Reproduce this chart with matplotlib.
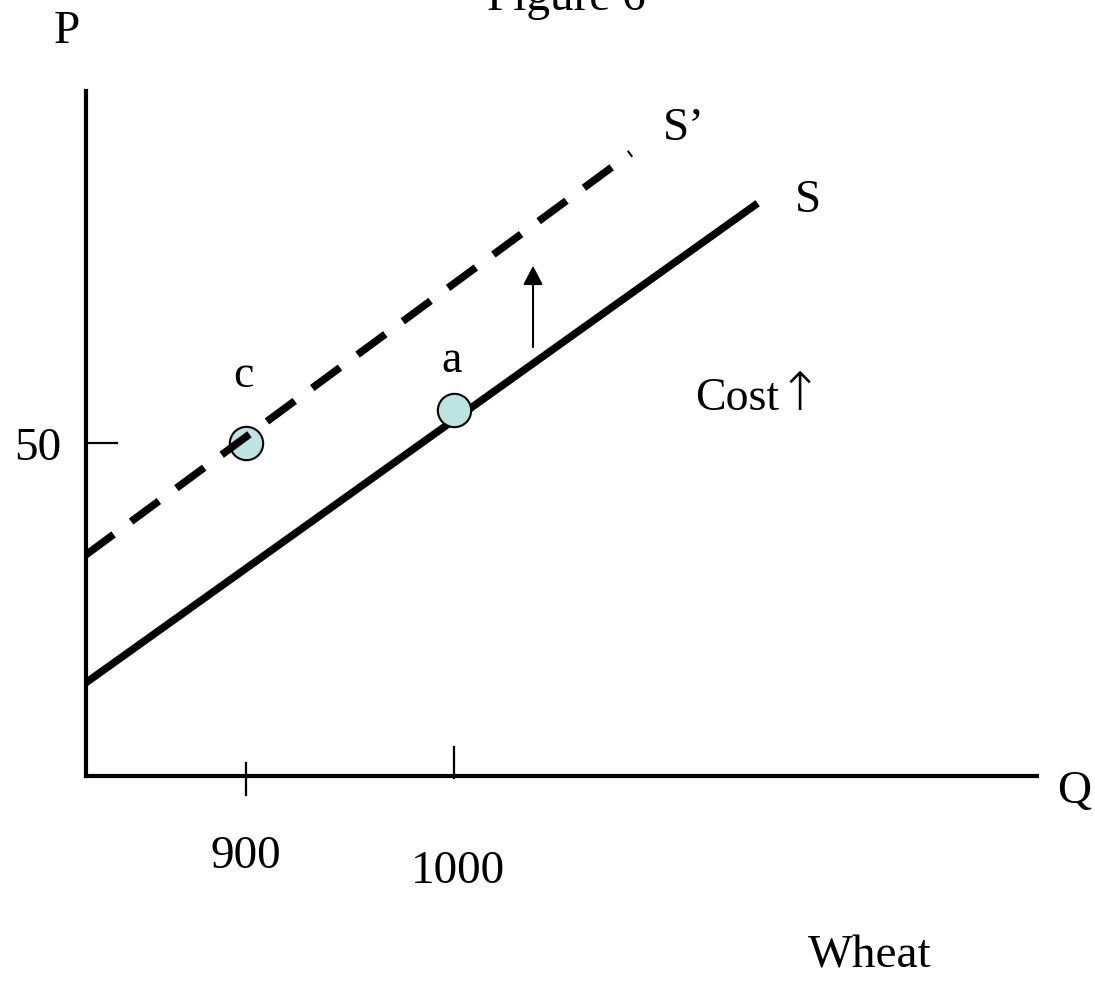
import matplotlib
matplotlib.use('Agg')
import matplotlib.pyplot as plt

plt.rcParams['font.family'] = ['Liberation Serif', 'DejaVu Serif']

# Supply curves (quantity, price)
s_q = [823, 1146]
s_p = [14.0, 86.0]
s_shift_q = [823, 1085]
s_shift_p = [33.2, 93.5]

# Marked points
pts_q = [900, 1000]
pts_p = [50, 55]
pts_lbl = ['c', 'a']

# Axis ticks
q_ticks = [900, 1000]
p_ticks = [50]

fig = plt.figure(figsize=(10.95, 9.81), dpi=100)
ax = fig.add_axes([86 / 1095, 1 - 776 / 981, 951 / 1095, 685 / 981])
ax.set_xlim(823.08, 1280.3)
ax.set_ylim(0, 102.85)

for side in ['top', 'right']:
    ax.spines[side].set_visible(False)
for side in ['left', 'bottom']:
    ax.spines[side].set_linewidth(3)
ax.set_xticks([])
ax.set_yticks([])

# curves
ax.plot(s_q, s_p, color='black', lw=5.4, solid_capstyle='butt', zorder=2)
ax.plot(s_shift_q, s_shift_p, color='black', lw=5.4, dashes=(4.6, 2.9),
        dash_capstyle='butt', zorder=4)

# points
ax.plot(pts_q[1], pts_p[1], 'o', ms=24, mfc='#bde3e3', mec='black', mew=1.5, zorder=3)
ax.plot(pts_q[0], pts_p[0], 'o', ms=24, mfc='#bde3e3', mec='black', mew=1.5, zorder=3)

fs = 34
ax.text(898.6, 58.4, pts_lbl[0], fontsize=fs - 1, ha='center', va='baseline')
ax.text(999, 60.7, pts_lbl[1], fontsize=fs - 1, ha='center', va='baseline')

# ticks
ax.plot([q_ticks[0], q_ticks[0]], [1.95, -2.85], color='black', lw=1.6, clip_on=False)
ax.plot([q_ticks[1], q_ticks[1]], [4.35, -0.3], color='black', lw=1.6, clip_on=False)
ax.plot([823.5, 838], [p_ticks[0], p_ticks[0]], color='black', lw=1.6, clip_on=False)

ax.text(q_ticks[0], -13.8, str(q_ticks[0]), fontsize=fs, ha='center', va='baseline', clip_on=False)
ax.text(q_ticks[1] + 2, -16.1, str(q_ticks[1]), fontsize=fs, ha='center', va='baseline', clip_on=False)
ax.text(800, 47.45, str(p_ticks[0]), fontsize=fs, ha='center', va='baseline', clip_on=False)

# shift arrow
ax.annotate('', xy=(1038, 76.6), xytext=(1038, 64.4),
            arrowprops=dict(arrowstyle='-|>,head_length=1.15,head_width=0.6',
                            color='black', lw=1.5, shrinkA=0, shrinkB=0))

ax.text(1100.5, 95.5, 'S\u2019', fontsize=fs, va='baseline')
ax.text(1163.9, 84.7, 'S', fontsize=fs, va='baseline')
ax.text(1115.9, 55.0, 'Cost', fontsize=fs - 1, va='baseline')
ax.text(1155.5, 55.0, '\u2191', fontsize=fs + 4, va='baseline',
        family=['DejaVu Sans'], fontweight='light')
ax.text(1298, -4.05, 'Q', fontsize=fs, ha='center', va='baseline', clip_on=False)

fig.text(67 / 1095, 1 - 43 / 981, 'P', fontsize=fs, ha='center', va='baseline')
fig.text(566 / 1095, 1 - 10 / 981, 'Figure 6', fontsize=fs, ha='center', va='baseline')
fig.text(870 / 1095, 1 - 968 / 981, 'Wheat', fontsize=fs, ha='center', va='baseline')

fig.savefig('out.png', dpi=100)
